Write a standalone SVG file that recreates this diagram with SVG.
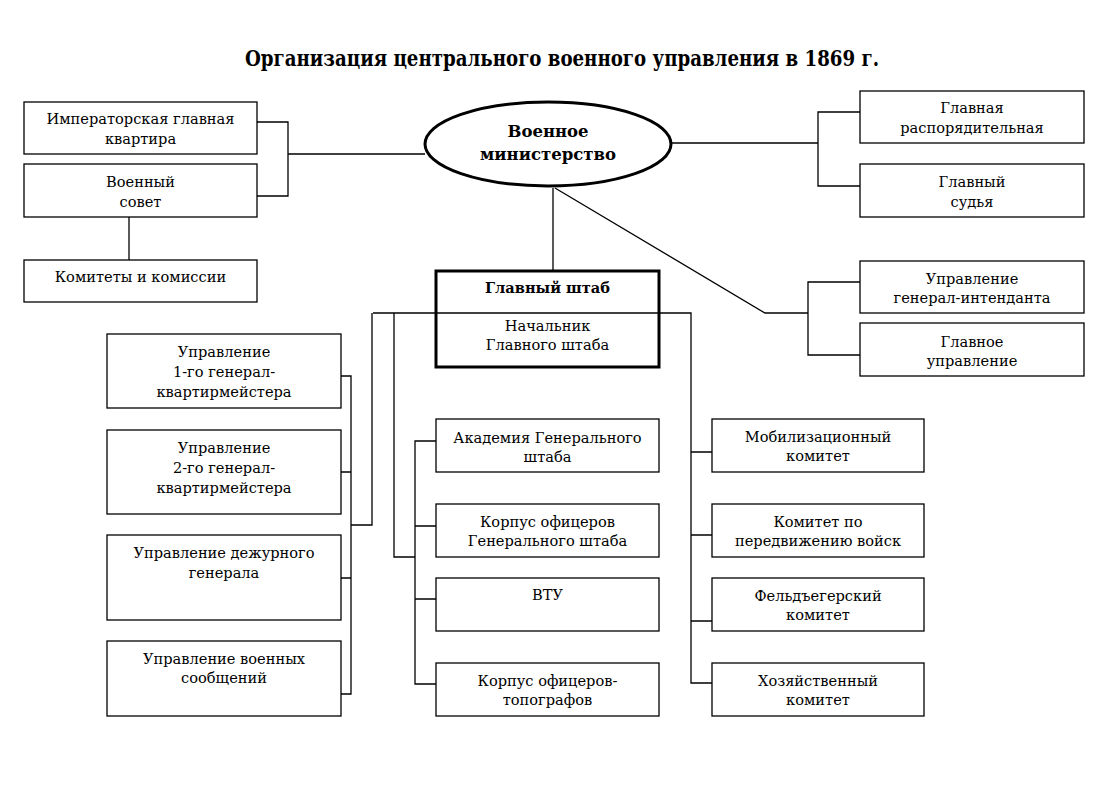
<svg xmlns="http://www.w3.org/2000/svg" width="1109" height="794" viewBox="0 0 1109 794">
<style>
.box{fill:#fff;stroke:#000;stroke-width:1.3}
.main{fill:#fff;stroke:#000;stroke-width:3}
text{font-family:'DejaVu Serif','Liberation Serif',serif;font-size:14.6px;text-anchor:middle;fill:#000}
.b{font-weight:bold}
.c{fill:none;stroke:#000;stroke-width:1.3}
</style>
<rect width="1109" height="794" fill="#fff"/>
<text x="562" y="66" class="b" style="font-size:22px" textLength="634" lengthAdjust="spacingAndGlyphs">Организация центрального военного управления в 1869 г.</text>
<g id="connectors">
<path class="c" d="M257,122 H288 V196 H257 M288,154 H425"/>
<path class="c" d="M129,217 V260"/>
<path class="c" d="M672,143 H818 M860,112 H818 V186 H860"/>
<path class="c" d="M555,188 L765,313 H808 M860,282 H808 V355 H860"/>
<path class="c" d="M553,188 V271"/>
<path class="c" d="M373,313 H691 V683 H712 M691,452 H712 M691,535 H712 M691,621 H712"/>
<path class="c" d="M341,376 H351 V694 H341 M341,472 H351 M341,578 H351 M351,525 H372 V313"/>
<path class="c" d="M394,313 V557 H415 M436,441 H415 V684 H436 M415,526 H436 M415,599 H436"/>
</g>
<g id="ministry">
<ellipse class="main" cx="548" cy="144" rx="123" ry="42"/>
<text class="b" x="548" y="137" style="font-size:16.5px">Военное</text>
<text class="b" x="548" y="160" style="font-size:16.5px">министерство</text>
</g>
<g id="imperial">
<rect class="box" x="24" y="102" width="233" height="52"/>
<text x="140.5" y="124">Императорская главная</text>
<text x="140.5" y="144">квартира</text>
</g>
<g id="council">
<rect class="box" x="24" y="164" width="233" height="53"/>
<text x="140.5" y="187">Военный</text>
<text x="140.5" y="207">совет</text>
</g>
<g id="committees">
<rect class="box" x="24" y="260" width="233" height="42"/>
<text x="140.5" y="282">Комитеты и комиссии</text>
</g>
<g id="glavnaya-rasp">
<rect class="box" x="860" y="91" width="224" height="52"/>
<text x="972" y="113">Главная</text>
<text x="972" y="133">распорядительная</text>
</g>
<g id="judge">
<rect class="box" x="860" y="164" width="224" height="53"/>
<text x="972" y="187">Главный</text>
<text x="972" y="207">судья</text>
</g>
<g id="intendant">
<rect class="box" x="860" y="261" width="224" height="52"/>
<text x="972" y="284">Управление</text>
<text x="972" y="303">генерал-интенданта</text>
</g>
<g id="main-dept">
<rect class="box" x="860" y="323" width="224" height="53"/>
<text x="972" y="347">Главное</text>
<text x="972" y="366">управление</text>
</g>
<g id="general-staff">
<rect x="436" y="271" width="223" height="96" style="fill:none;stroke:#000;stroke-width:3"/>
<text class="b" x="547.5" y="293">Главный штаб</text>
<text x="547.5" y="331">Начальник</text>
<text x="547.5" y="350">Главного штаба</text>
</g>
<g id="qm1">
<rect class="box" x="107" y="334" width="234" height="74"/>
<text x="224" y="357">Управление</text>
<text x="224" y="377">1-го генерал-</text>
<text x="224" y="397">квартирмейстера</text>
</g>
<g id="qm2">
<rect class="box" x="107" y="430" width="234" height="84"/>
<text x="224" y="453">Управление</text>
<text x="224" y="473">2-го генерал-</text>
<text x="224" y="493">квартирмейстера</text>
</g>
<g id="duty">
<rect class="box" x="107" y="535" width="234" height="85"/>
<text x="224" y="558">Управление дежурного</text>
<text x="224" y="578">генерала</text>
</g>
<g id="communications">
<rect class="box" x="107" y="641" width="234" height="75"/>
<text x="224" y="664">Управление военных</text>
<text x="224" y="683">сообщений</text>
</g>
<g id="academy">
<rect class="box" x="436" y="419" width="223" height="53"/>
<text x="547.5" y="443">Академия Генерального</text>
<text x="547.5" y="462">штаба</text>
</g>
<g id="corps-gs">
<rect class="box" x="436" y="504" width="223" height="53"/>
<text x="547.5" y="527">Корпус офицеров</text>
<text x="547.5" y="546">Генерального штаба</text>
</g>
<g id="vtu">
<rect class="box" x="436" y="578" width="223" height="53"/>
<text x="547.5" y="600">ВТУ</text>
</g>
<g id="topographers">
<rect class="box" x="436" y="663" width="223" height="53"/>
<text x="547.5" y="686">Корпус офицеров-</text>
<text x="547.5" y="705">топографов</text>
</g>
<g id="mobilization">
<rect class="box" x="712" y="419" width="212" height="53"/>
<text x="818" y="442">Мобилизационный</text>
<text x="818" y="461">комитет</text>
</g>
<g id="movement">
<rect class="box" x="712" y="504" width="212" height="53"/>
<text x="818" y="527">Комитет по</text>
<text x="818" y="546">передвижению войск</text>
</g>
<g id="courier">
<rect class="box" x="712" y="578" width="212" height="53"/>
<text x="818" y="601">Фельдъегерский</text>
<text x="818" y="620">комитет</text>
</g>
<g id="economic">
<rect class="box" x="712" y="663" width="212" height="53"/>
<text x="818" y="686">Хозяйственный</text>
<text x="818" y="705">комитет</text>
</g>
</svg>
